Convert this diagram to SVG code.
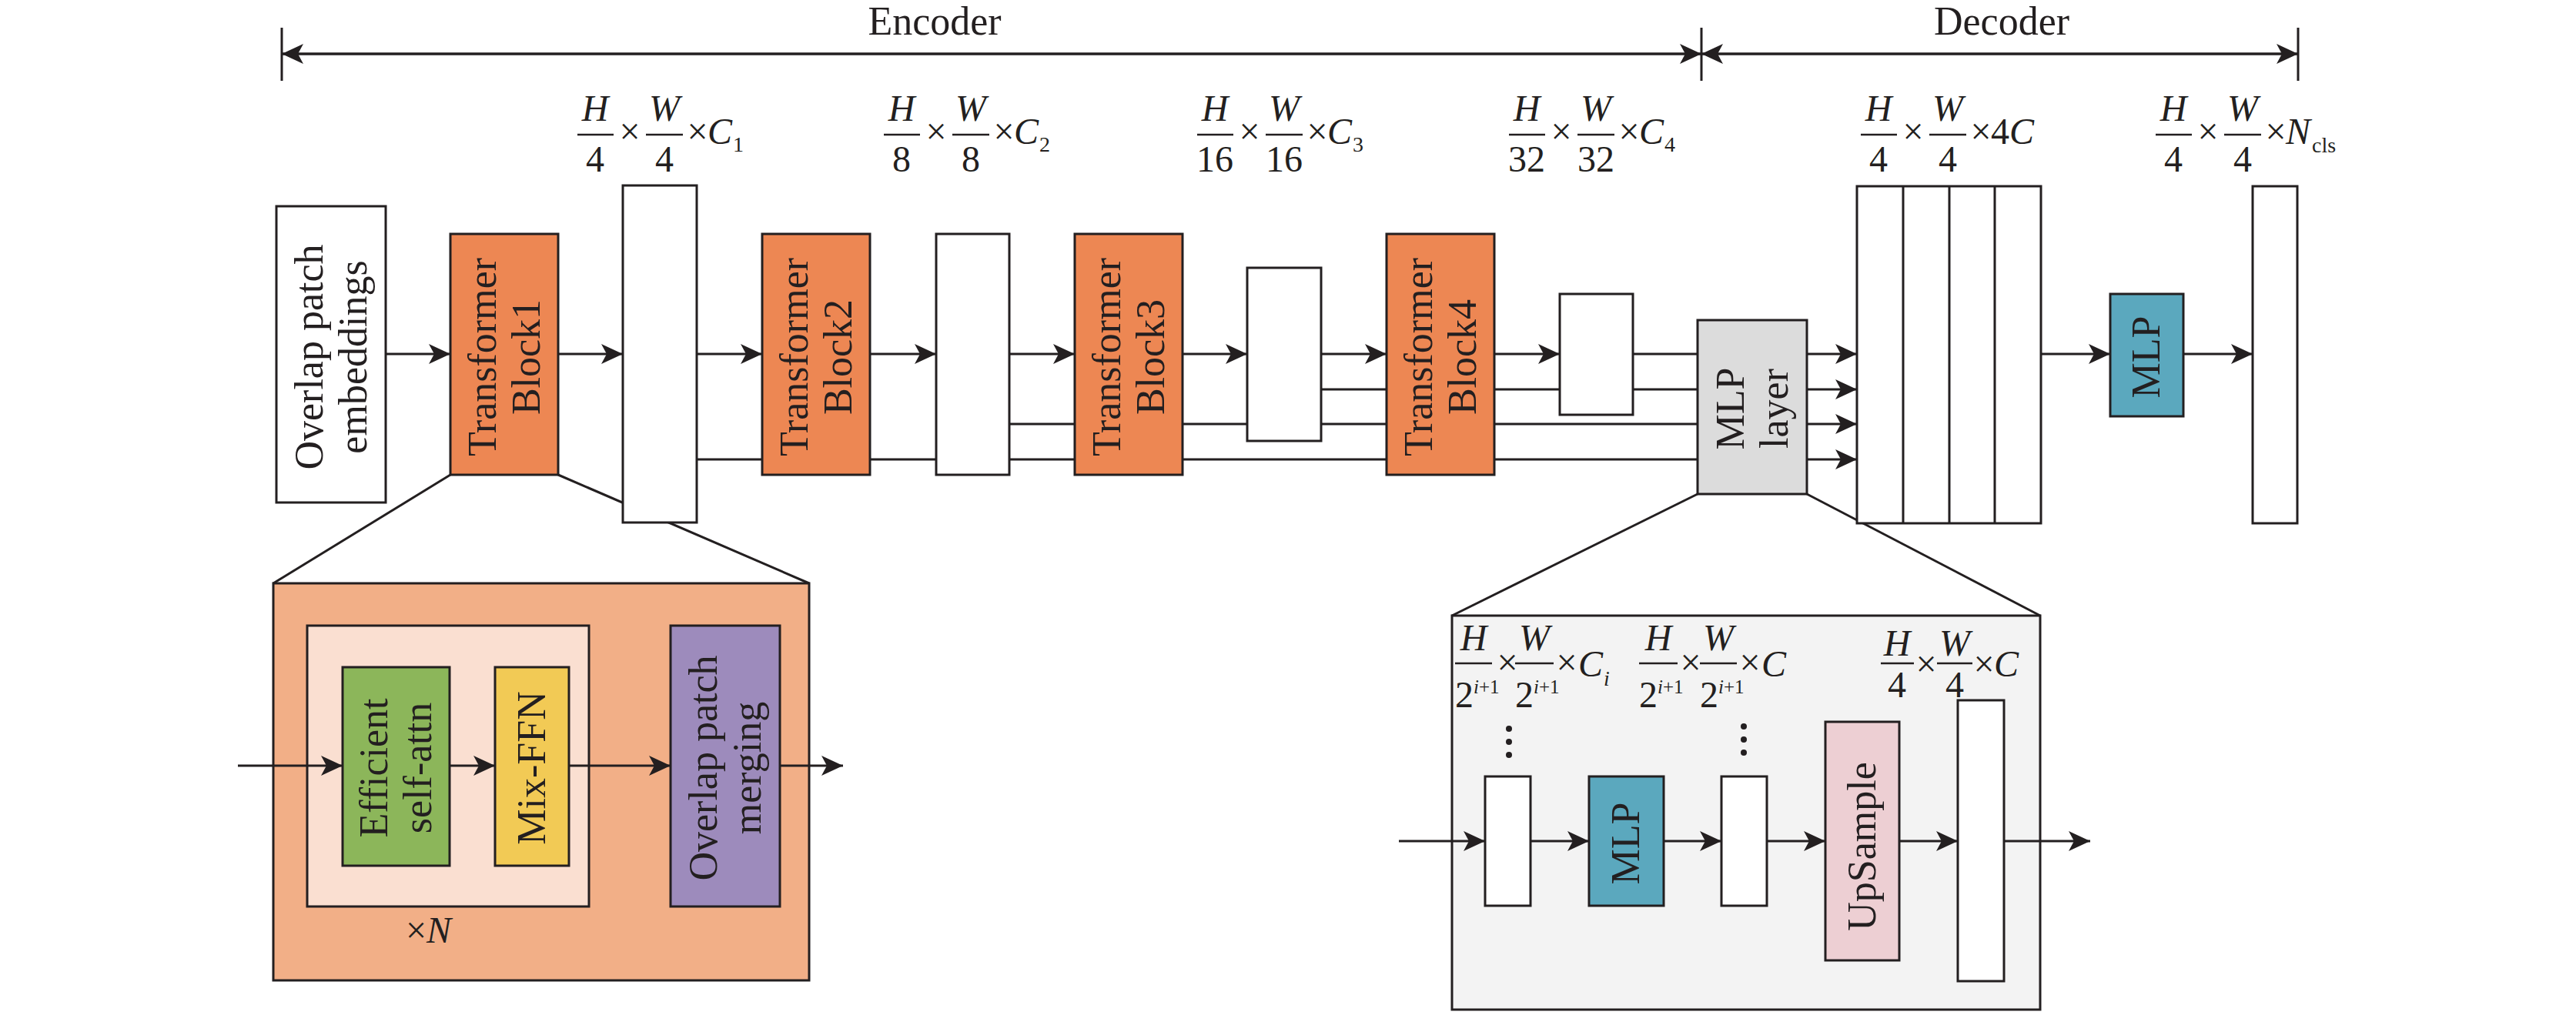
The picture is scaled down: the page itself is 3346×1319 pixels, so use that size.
<svg xmlns="http://www.w3.org/2000/svg" width="3346" height="1319" viewBox="0 0 3346 1319">
<style>
.bx{stroke:#231F20;stroke-width:3}
.ln{stroke:#231F20;stroke-width:3;fill:none}
.ar{stroke:#231F20;stroke-width:3;fill:none;marker-end:url(#ah)}
.fb{stroke:#231F20;stroke-width:2.5}
.t{font-family:"Liberation Serif","Times New Roman",serif;font-size:52px;fill:#231F20}
.m{font-family:"Liberation Serif","Times New Roman",serif;font-size:48px;fill:#231F20}
.i{font-style:italic}
.s{font-family:"Liberation Serif","Times New Roman",serif;font-size:28px;fill:#231F20}
.w{fill:#FFFFFF}
.or{fill:#ED8753}
</style>
<defs>
<marker id="ah" viewBox="0 0 28 26" refX="28" refY="13" markerWidth="28" markerHeight="26" markerUnits="userSpaceOnUse" orient="auto-start-reverse">
<path d="M0,0 L28,13 L0,26 L7,13 Z" fill="#231F20"/>
</marker>
</defs>
<rect width="3346" height="1319" fill="#FFFFFF"/>

<!-- Encoder / Decoder spans -->
<g id="spans">
<line class="ln" x1="366" y1="36" x2="366" y2="105"/>
<line class="ln" x1="2210" y1="36" x2="2210" y2="105"/>
<line class="ln" x1="2985" y1="36" x2="2985" y2="105"/>
<line x1="366" y1="70" x2="2210" y2="70" stroke="#231F20" stroke-width="3.5" marker-start="url(#ah)" marker-end="url(#ah)"/>
<line x1="2210" y1="70" x2="2985" y2="70" stroke="#231F20" stroke-width="3.5" marker-start="url(#ah)" marker-end="url(#ah)"/>
<text class="t" x="1214" y="45" text-anchor="middle">Encoder</text>
<text class="t" x="2600" y="45" text-anchor="middle">Decoder</text>
</g>

<!-- connectors -->
<g id="connectors">
<line class="ln" x1="585" y1="617" x2="355" y2="758"/>
<line class="ln" x1="725" y1="617" x2="1051" y2="758"/>
<line class="ln" x1="2205" y1="642" x2="1886" y2="800"/>
<line class="ln" x1="2347" y1="642" x2="2650" y2="800"/>
<line class="ar" x1="501" y1="460" x2="585" y2="460"/>
<line class="ar" x1="725" y1="460" x2="809" y2="460"/>
<line class="ar" x1="905" y1="460" x2="990" y2="460"/>
<line class="ar" x1="1130" y1="460" x2="1216" y2="460"/>
<line class="ar" x1="1311" y1="460" x2="1396" y2="460"/>
<line class="ar" x1="1536" y1="460" x2="1620" y2="460"/>
<line class="ar" x1="1716" y1="460" x2="1801" y2="460"/>
<line class="ar" x1="1941" y1="460" x2="2026" y2="460"/>
<line class="ln" x1="2121" y1="460" x2="2205" y2="460"/>
<line class="ln" x1="1716" y1="506" x2="2205" y2="506"/>
<line class="ln" x1="1311" y1="551" x2="2205" y2="551"/>
<line class="ln" x1="905" y1="597" x2="2205" y2="597"/>
<line class="ar" x1="2347" y1="460" x2="2412" y2="460"/>
<line class="ar" x1="2347" y1="506" x2="2412" y2="506"/>
<line class="ar" x1="2347" y1="551" x2="2412" y2="551"/>
<line class="ar" x1="2347" y1="597" x2="2412" y2="597"/>
<line class="ar" x1="2651" y1="460" x2="2741" y2="460"/>
<line class="ar" x1="2836" y1="460" x2="2926" y2="460"/>
</g>

<!-- main row nodes -->
<g id="n-embed">
<rect class="bx w" x="359" y="268" width="142" height="385"/>
<text class="t" transform="translate(430,464) rotate(-90)" text-anchor="middle"><tspan x="0" y="-11">Overlap patch</tspan><tspan x="0" y="46">embeddings</tspan></text>
</g>
<g id="n-tb1">
<rect class="bx or" x="585" y="304" width="140" height="313"/>
<text class="t" transform="translate(655,464) rotate(-90)" text-anchor="middle"><tspan x="0" y="-11">Transformer</tspan><tspan x="0" y="46">Block1</tspan></text>
</g>
<g id="n-f1"><rect class="bx w" x="809" y="241" width="96" height="438"/></g>
<g id="n-tb2">
<rect class="bx or" x="990" y="304" width="140" height="313"/>
<text class="t" transform="translate(1060,464) rotate(-90)" text-anchor="middle"><tspan x="0" y="-11">Transformer</tspan><tspan x="0" y="46">Block2</tspan></text>
</g>
<g id="n-f2"><rect class="bx w" x="1216" y="304" width="95" height="313"/></g>
<g id="n-tb3">
<rect class="bx or" x="1396" y="304" width="140" height="313"/>
<text class="t" transform="translate(1466,464) rotate(-90)" text-anchor="middle"><tspan x="0" y="-11">Transformer</tspan><tspan x="0" y="46">Block3</tspan></text>
</g>
<g id="n-f3"><rect class="bx w" x="1620" y="348" width="96" height="225"/></g>
<g id="n-tb4">
<rect class="bx or" x="1801" y="304" width="140" height="313"/>
<text class="t" transform="translate(1871,464) rotate(-90)" text-anchor="middle"><tspan x="0" y="-11">Transformer</tspan><tspan x="0" y="46">Block4</tspan></text>
</g>
<g id="n-f4"><rect class="bx w" x="2026" y="382" width="95" height="157"/></g>
<g id="n-mlplayer">
<rect class="bx" fill="#DCDCDC" x="2205" y="416" width="142" height="226"/>
<text class="t" transform="translate(2276,531) rotate(-90)" text-anchor="middle"><tspan x="0" y="-11">MLP</tspan><tspan x="0" y="46">layer</tspan></text>
</g>
<g id="n-concat">
<rect class="bx w" x="2412" y="242" width="239" height="438"/>
<line class="ln" x1="2472" y1="242" x2="2472" y2="680"/>
<line class="ln" x1="2532" y1="242" x2="2532" y2="680"/>
<line class="ln" x1="2591" y1="242" x2="2591" y2="680"/>
</g>
<g id="n-mlp">
<rect class="bx" fill="#5BA8BE" x="2741" y="382" width="95" height="159"/>
<text class="t" transform="translate(2788,464) rotate(-90)" text-anchor="middle"><tspan x="0" y="17">MLP</tspan></text>
</g>
<g id="n-out"><rect class="bx w" x="2926" y="242" width="58" height="438"/></g>

<!-- dimension labels -->
<g id="dim1">
<text class="m i" x="773" y="157" text-anchor="middle">H</text>
<line class="fb" x1="750" y1="175" x2="797" y2="175"/>
<text class="m" x="773" y="223" text-anchor="middle">4</text>
<text class="m" x="818" y="187" text-anchor="middle">×</text>
<text class="m i" x="863" y="157" text-anchor="middle">W</text>
<line class="fb" x1="839" y1="175" x2="887" y2="175"/>
<text class="m" x="863" y="223" text-anchor="middle">4</text>
<text class="m" x="906" y="187" text-anchor="middle">×</text>
<text class="m i" x="919" y="187">C</text>
<text class="s" x="952" y="197">1</text>
</g>
<g id="dim2">
<text class="m i" x="1171" y="157" text-anchor="middle">H</text>
<line class="fb" x1="1148" y1="175" x2="1195" y2="175"/>
<text class="m" x="1171" y="223" text-anchor="middle">8</text>
<text class="m" x="1216" y="187" text-anchor="middle">×</text>
<text class="m i" x="1261" y="157" text-anchor="middle">W</text>
<line class="fb" x1="1237" y1="175" x2="1285" y2="175"/>
<text class="m" x="1261" y="223" text-anchor="middle">8</text>
<text class="m" x="1304" y="187" text-anchor="middle">×</text>
<text class="m i" x="1317" y="187">C</text>
<text class="s" x="1350" y="197">2</text>
</g>
<g id="dim3">
<text class="m i" x="1578" y="157" text-anchor="middle">H</text>
<line class="fb" x1="1555" y1="175" x2="1602" y2="175"/>
<text class="m" x="1578" y="223" text-anchor="middle">16</text>
<text class="m" x="1623" y="187" text-anchor="middle">×</text>
<text class="m i" x="1668" y="157" text-anchor="middle">W</text>
<line class="fb" x1="1644" y1="175" x2="1692" y2="175"/>
<text class="m" x="1668" y="223" text-anchor="middle">16</text>
<text class="m" x="1711" y="187" text-anchor="middle">×</text>
<text class="m i" x="1724" y="187">C</text>
<text class="s" x="1757" y="197">3</text>
</g>
<g id="dim4">
<text class="m i" x="1983" y="157" text-anchor="middle">H</text>
<line class="fb" x1="1960" y1="175" x2="2007" y2="175"/>
<text class="m" x="1983" y="223" text-anchor="middle">32</text>
<text class="m" x="2028" y="187" text-anchor="middle">×</text>
<text class="m i" x="2073" y="157" text-anchor="middle">W</text>
<line class="fb" x1="2049" y1="175" x2="2097" y2="175"/>
<text class="m" x="2073" y="223" text-anchor="middle">32</text>
<text class="m" x="2116" y="187" text-anchor="middle">×</text>
<text class="m i" x="2129" y="187">C</text>
<text class="s" x="2162" y="197">4</text>
</g>
<g id="dim5">
<text class="m i" x="2440" y="157" text-anchor="middle">H</text>
<line class="fb" x1="2417" y1="175" x2="2464" y2="175"/>
<text class="m" x="2440" y="223" text-anchor="middle">4</text>
<text class="m" x="2485" y="187" text-anchor="middle">×</text>
<text class="m i" x="2530" y="157" text-anchor="middle">W</text>
<line class="fb" x1="2506" y1="175" x2="2554" y2="175"/>
<text class="m" x="2530" y="223" text-anchor="middle">4</text>
<text class="m" x="2573" y="187" text-anchor="middle">×</text>
<text class="m" x="2586" y="187">4<tspan class="i">C</tspan></text>
</g>
<g id="dim6">
<text class="m i" x="2823" y="157" text-anchor="middle">H</text>
<line class="fb" x1="2800" y1="175" x2="2847" y2="175"/>
<text class="m" x="2823" y="223" text-anchor="middle">4</text>
<text class="m" x="2868" y="187" text-anchor="middle">×</text>
<text class="m i" x="2913" y="157" text-anchor="middle">W</text>
<line class="fb" x1="2889" y1="175" x2="2937" y2="175"/>
<text class="m" x="2913" y="223" text-anchor="middle">4</text>
<text class="m" x="2956" y="187" text-anchor="middle">×</text>
<text class="m i" x="2969" y="187">N</text>
<text class="s" x="3003" y="198">cls</text>
</g>

<!-- encoder block detail -->
<g id="n-enc-detail">
<rect class="bx" fill="#F2AF87" x="355" y="758" width="696" height="516"/>
</g>
<g id="n-repeat">
<rect class="bx" fill="#FADFD1" x="399" y="813" width="366" height="365"/>
<text class="m" x="527" y="1225">×<tspan class="i">N</tspan></text>
</g>
<g id="d-connectors">
<line class="ar" x1="309" y1="995" x2="445" y2="995"/>
<line class="ar" x1="584" y1="995" x2="643" y2="995"/>
<line class="ar" x1="739" y1="995" x2="871" y2="995"/>
<line class="ar" x1="1013" y1="995" x2="1095" y2="995"/>
</g>
<g id="n-esa">
<rect class="bx" fill="#8CB65A" x="445" y="867" width="139" height="258"/>
<text class="t" transform="translate(514,998) rotate(-90)" text-anchor="middle"><tspan x="0" y="-11">Efficient</tspan><tspan x="0" y="46">self-attn</tspan></text>
</g>
<g id="n-ffn">
<rect class="bx" fill="#F2CA55" x="643" y="867" width="96" height="258"/>
<text class="t" transform="translate(691,998) rotate(-90)" text-anchor="middle"><tspan x="0" y="17">Mix-FFN</tspan></text>
</g>
<g id="n-merge">
<rect class="bx" fill="#9D8BBC" x="871" y="813" width="142" height="365"/>
<text class="t" transform="translate(942,998) rotate(-90)" text-anchor="middle"><tspan x="0" y="-11">Overlap patch</tspan><tspan x="0" y="46">merging</tspan></text>
</g>

<!-- decoder detail -->
<g id="n-dec-detail">
<rect class="bx" fill="#F3F3F3" x="1886" y="800" width="764" height="512"/>
</g>
<g id="dd-connectors">
<line class="ar" x1="1817" y1="1093" x2="1929" y2="1093"/>
<line class="ar" x1="1988" y1="1093" x2="2064" y2="1093"/>
<line class="ar" x1="2161" y1="1093" x2="2236" y2="1093"/>
<line class="ar" x1="2295" y1="1093" x2="2371" y2="1093"/>
<line class="ar" x1="2467" y1="1093" x2="2543" y2="1093"/>
<line class="ar" x1="2603" y1="1093" x2="2715" y2="1093"/>
</g>
<g id="n-fa">
<rect class="bx w" x="1929" y="1009" width="59" height="168"/>
<circle cx="1960" cy="947" r="4" fill="#231F20"/>
<circle cx="1960" cy="964" r="4" fill="#231F20"/>
<circle cx="1960" cy="981" r="4" fill="#231F20"/>
</g>
<g id="n-dmlp">
<rect class="bx" fill="#5BA8BE" x="2064" y="1009" width="97" height="168"/>
<text class="t" transform="translate(2112,1096) rotate(-90)" text-anchor="middle"><tspan x="0" y="17">MLP</tspan></text>
</g>
<g id="n-fb">
<rect class="bx w" x="2236" y="1009" width="59" height="168"/>
<circle cx="2265" cy="944" r="4" fill="#231F20"/>
<circle cx="2265" cy="961" r="4" fill="#231F20"/>
<circle cx="2265" cy="978" r="4" fill="#231F20"/>
</g>
<g id="n-up">
<rect class="bx" fill="#EDCFD3" x="2371" y="938" width="96" height="310"/>
<text class="t" transform="translate(2419,1100) rotate(-90)" text-anchor="middle"><tspan x="0" y="17">UpSample</tspan></text>
</g>
<g id="n-fc"><rect class="bx w" x="2543" y="910" width="60" height="365"/></g>

<g id="dimA">
<text class="m i" x="1914" y="845" text-anchor="middle">H</text>
<line class="fb" x1="1890" y1="862" x2="1938" y2="862"/>
<text class="m" x="1890" y="919">2<tspan class="i" font-size="25" dy="-18">i</tspan><tspan font-size="25">+1</tspan></text>
<text class="m" x="1958" y="877" text-anchor="middle">×</text>
<text class="m i" x="1993" y="845" text-anchor="middle">W</text>
<line class="fb" x1="1968" y1="862" x2="2018" y2="862"/>
<text class="m" x="1968" y="919">2<tspan class="i" font-size="25" dy="-18">i</tspan><tspan font-size="25">+1</tspan></text>
<text class="m" x="2035" y="877" text-anchor="middle">×</text>
<text class="m i" x="2050" y="879">C</text>
<text class="s i" x="2083" y="891">i</text>
</g>
<g id="dimB">
<text class="m i" x="2154" y="845" text-anchor="middle">H</text>
<line class="fb" x1="2129" y1="862" x2="2179" y2="862"/>
<text class="m" x="2129" y="919">2<tspan class="i" font-size="25" dy="-18">i</tspan><tspan font-size="25">+1</tspan></text>
<text class="m" x="2196" y="877" text-anchor="middle">×</text>
<text class="m i" x="2232" y="845" text-anchor="middle">W</text>
<line class="fb" x1="2208" y1="862" x2="2256" y2="862"/>
<text class="m" x="2208" y="919">2<tspan class="i" font-size="25" dy="-18">i</tspan><tspan font-size="25">+1</tspan></text>
<text class="m" x="2273" y="877" text-anchor="middle">×</text>
<text class="m i" x="2288" y="879">C</text>
</g>
<g id="dimC">
<text class="m i" x="2464" y="852" text-anchor="middle">H</text>
<line class="fb" x1="2443" y1="862" x2="2486" y2="862"/>
<text class="m" x="2464" y="906" text-anchor="middle">4</text>
<text class="m" x="2502" y="879" text-anchor="middle">×</text>
<text class="m i" x="2539" y="852" text-anchor="middle">W</text>
<line class="fb" x1="2516" y1="862" x2="2562" y2="862"/>
<text class="m" x="2539" y="906" text-anchor="middle">4</text>
<text class="m" x="2577" y="879" text-anchor="middle">×</text>
<text class="m i" x="2590" y="879">C</text>
</g>
</svg>
